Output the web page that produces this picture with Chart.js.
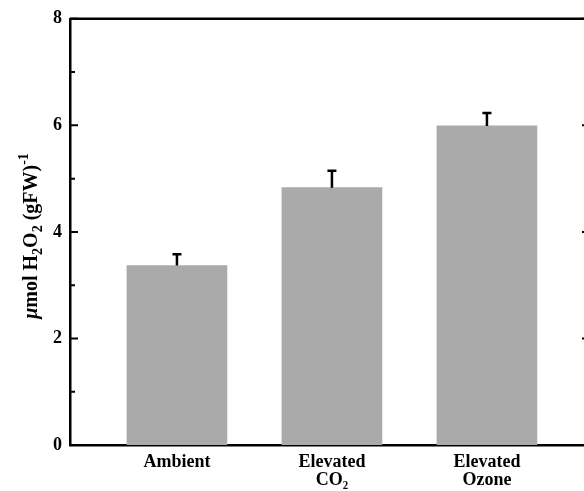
<!DOCTYPE html>
<html>
<head>
<meta charset="utf-8">
<script src="https://cdn.jsdelivr.net/npm/chart.js@4.4.1/dist/chart.umd.min.js"></script>
<style>
  html, body { margin: 0; padding: 0; background: #fff; overflow: hidden; }
  #wrap { width: 590px; height: 491px; }
</style>
</head>
<body>
<div id="wrap"><canvas id="myChart" width="590" height="491"></canvas></div>
<script>
// data
var categories = [['Ambient'], ['Elevated', 'CO\u2082'], ['Elevated', 'Ozone']];
var positions = [1, 2, 3];
var means = [3.37, 4.83, 5.99];
var errors = [0.21, 0.32, 0.24];
var yTicks = [0, 2, 4, 6, 8];

var serif = '"Liberation Serif", "Times New Roman", serif';

// box, inward ticks, error bars, y title
var frame = {
    id: 'frame',
    afterDatasetsDraw: function(chart) {
        var ctx = chart.ctx;
        var a = chart.chartArea;
        var y = chart.scales.y;
        var x = chart.scales.x;
        ctx.save();
        ctx.strokeStyle = '#000';
        ctx.lineWidth = 2.5;
        ctx.beginPath();
        ctx.moveTo(a.left, a.top);
        ctx.lineTo(a.right, a.top);
        ctx.lineTo(a.right, a.bottom);
        ctx.stroke();

        ctx.lineWidth = 2;
        for (var v = 0; v <= 8; v++) {
            var py = y.getPixelForValue(v);
            var len = (v % 2 === 0) ? 8 : 5;
            ctx.beginPath();
            ctx.moveTo(a.left, py);
            ctx.lineTo(a.left + len, py);
            ctx.moveTo(a.right, py);
            ctx.lineTo(a.right - len, py);
            ctx.stroke();
        }

        // error bars (upper only)
        ctx.lineWidth = 2.5;
        for (var i = 0; i < means.length; i++) {
            var px = x.getPixelForValue(positions[i]);
            var top = y.getPixelForValue(means[i]);
            var cap = y.getPixelForValue(means[i] + errors[i]);
            ctx.beginPath();
            ctx.moveTo(px, top);
            ctx.lineTo(px, cap);
            ctx.moveTo(px - 4.5, cap);
            ctx.lineTo(px + 4.5, cap);
            ctx.stroke();
        }
        ctx.restore();
    },
    afterDraw: function(chart) {
        var ctx = chart.ctx;
        ctx.save();
        ctx.translate(30, 236);
        ctx.rotate(-Math.PI / 2);
        ctx.fillStyle = '#000';
        ctx.textBaseline = 'alphabetic';
        var parts = [
            { t: '\u03bc', f: 'italic bold 20px ' + serif, dy: 0 },
            { t: 'mol H', f: 'bold 20px ' + serif, dy: 0 },
            { t: '2', f: 'bold 14px ' + serif, dy: 5 },
            { t: 'O', f: 'bold 20px ' + serif, dy: 0 },
            { t: '2', f: 'bold 14px ' + serif, dy: 5 },
            { t: ' (gFW)', f: 'bold 20px ' + serif, dy: 0 },
            { t: '-1', f: 'bold 14px ' + serif, dy: -9 }
        ];
        var total = 0;
        parts.forEach(function(p) { ctx.font = p.f; total += ctx.measureText(p.t).width; });
        var cx = -total / 2;
        parts.forEach(function(p) {
            ctx.font = p.f;
            ctx.fillText(p.t, cx, 7 + p.dy);
            cx += ctx.measureText(p.t).width;
        });
        ctx.restore();
    }
};

var ctx = document.getElementById('myChart').getContext('2d');
var myChart = new Chart(ctx, {
    type: 'bar',
    data: {
        datasets: [{
            data: positions.map(function(p, i) { return { x: p, y: means[i] }; }),
            backgroundColor: '#aaaaaa',
            borderWidth: 0,
            barThickness: 100
        }]
    },
    options: {
        responsive: false,
        animation: false,
        layout: { padding: { top: 17, left: 0, right: 0, bottom: 0 } },
        plugins: {
            legend: { display: false },
            tooltip: { enabled: false }
        },
        scales: {
            x: {
                type: 'linear',
                min: 0.31,
                max: 3.665,
                offset: false,
                grid: { display: false, drawTicks: false, offset: false },
                border: { color: '#000', width: 2.5 },
                afterBuildTicks: function(scale) {
                    scale.ticks = positions.map(function(p) { return { value: p }; });
                },
                afterFit: function(scale) { scale.height = 46; },
                ticks: {
                    autoSkip: false,
                    maxRotation: 0,
                    padding: 8,
                    color: '#000',
                    font: { family: serif, weight: 'bold', size: 18, lineHeight: 1.0 },
                    callback: function(v) { return categories[positions.indexOf(v)]; }
                }
            },
            y: {
                min: 0,
                max: 8,
                grid: { display: false, drawTicks: false },
                border: { color: '#000', width: 2.5 },
                afterBuildTicks: function(scale) {
                    scale.ticks = yTicks.map(function(v) { return { value: v }; });
                },
                afterFit: function(scale) { scale.width = 70; },
                ticks: {
                    padding: 8,
                    color: '#000',
                    font: { family: serif, weight: 'bold', size: 18 }
                }
            }
        }
    },
    plugins: [frame]
});
</script>
</body>
</html>
